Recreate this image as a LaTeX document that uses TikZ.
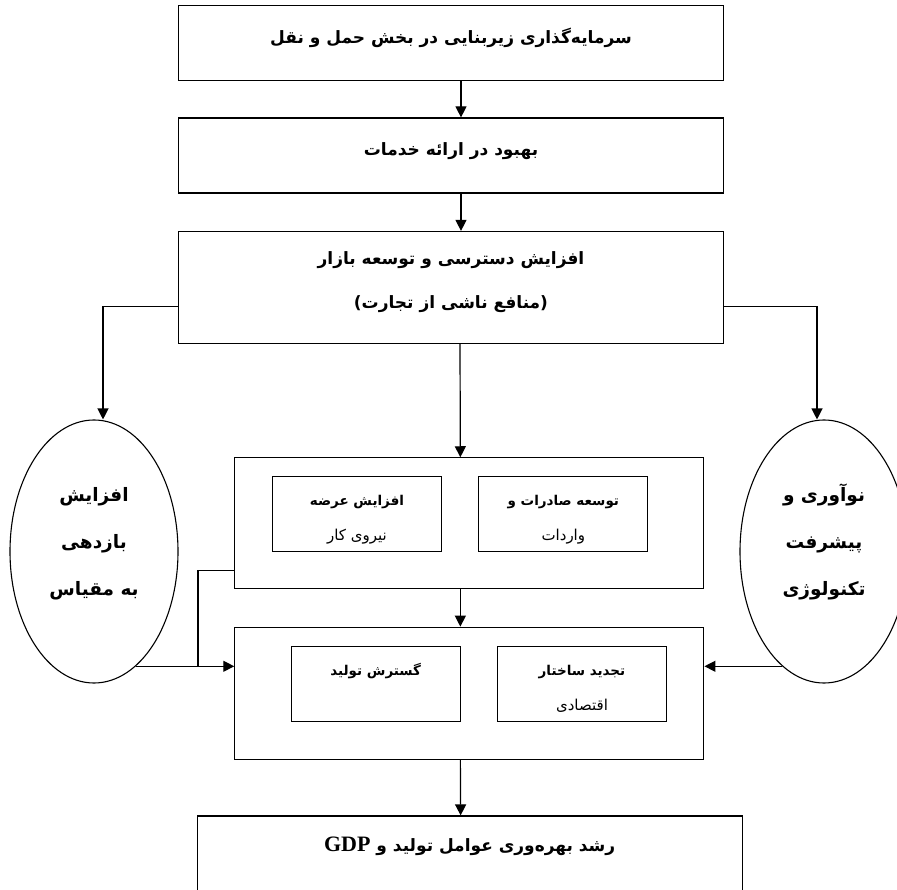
\documentclass[tikz,border=0pt]{standalone}
\usepackage{fontspec}
\usepackage{tikz}
\usetikzlibrary{arrows.meta, shapes.geometric}
\TeXXeTstate=1
\newfontfamily\persianfont[Script=Arabic]{DejaVu Sans}
\newfontfamily\latinfont{Liberation Serif}
\newcommand{\fatext}[1]{\beginR #1\endR}
\newcommand{\faplain}[1]{\beginR{\mdseries\fontsize{15}{35}\selectfont #1}\endR}

\begin{document}
\begin{tikzpicture}[x=1pt,y=-1pt]
    \tikzset{block/.style = {shape=rectangle,draw,line width=1.2pt,minimum width=545pt,minimum height=75pt,inner sep=0pt}}
    \tikzset{subblock/.style = {shape=rectangle,draw,line width=1.1pt,minimum width=169pt,minimum height=75pt,inner sep=0pt}}
    \tikzset{oval/.style = {shape=ellipse,draw,line width=1.1pt,minimum width=168pt,minimum height=263pt,inner sep=0pt}}
    \tikzset{title/.style = {font=\persianfont\bfseries\fontsize{17}{44}\selectfont,align=center,inner sep=0pt}}
    \tikzset{subtitle/.style = {font=\persianfont\bfseries\fontsize{13.5}{35}\selectfont,align=center,inner sep=0pt}}
    \tikzset{ovaltitle/.style = {font=\persianfont\bfseries\fontsize{18.5}{47}\selectfont,align=center,inner sep=0pt}}
    \tikzset{edge/.style = {-{Triangle[width=11pt,length=11pt]},line width=1.2pt}}
    \clip (0,0) rectangle (897,890);
    % vertices
    \node[block] (invest) at (451,43) {};
    \node[title] (investtxt) at (451,38) {\fatext{سرمایه‌گذاری زیربنایی در بخش حمل و نقل}};
    \node[block] (service) at (451,155.5) {};
    \node[title] (servicetxt) at (451,151) {\fatext{بهبود در ارائه خدمات}};
    \node[block,minimum height=112pt] (market) at (451,287.5) {};
    \node[title] (markettxt) at (451,282) {\fatext{افزایش دسترسی و توسعه بازار}\\\fatext{(منافع ناشی از تجارت)}};
    \node[block,minimum width=469pt,minimum height=131pt] (trade) at (469.35,523.35) {};
    \node[subblock] (labour) at (357,514.35) {};
    \node[subtitle] (labourtxt) at (357,520) {\fatext{افزایش عرضه}\\\faplain{نیروی کار}};
    \node[subblock] (export) at (563.35,514.35) {};
    \node[subtitle] (exporttxt) at (563.35,520) {\fatext{توسعه صادرات و}\\\faplain{واردات}};
    \node[block,minimum width=469pt,minimum height=132pt] (prod) at (469.35,693.25) {};
    \node[subblock] (expand) at (375.65,683.85) {};
    \node[subtitle] (expandtxt) at (375.65,671) {\fatext{گسترش تولید}};
    \node[subblock] (restruct) at (582,683.85) {};
    \node[subtitle] (restructtxt) at (582,688.5) {\fatext{تجدید ساختار}\\\faplain{اقتصادی}};
    \node[block,minimum height=80pt] (growth) at (469.65,856) {};
    \node[title] (growthtxt) at (469.65,846) {\fatext{رشد بهره‌وری عوامل تولید و \beginL{\latinfont\bfseries\fontsize{22}{24}\selectfont GDP}\endL}};
    \node[oval] (scale) at (94,551.5) {};
    \node[ovaltitle] (scaletxt) at (94,544) {\fatext{افزایش}\\\fatext{بازدهی}\\\fatext{به مقیاس}};
    \node[oval] (tech) at (824,551.5) {};
    \node[ovaltitle] (techtxt) at (824,542) {\fatext{نوآوری و}\\\fatext{پیشرفت}\\\fatext{تکنولوژی}};
    \coordinate (merge) at (198,666);
    %edges
    \draw[edge] ([xshift=10pt]invest.south) -- ([xshift=10pt]service.north);
    \draw[edge] ([xshift=10pt]service.south) -- ([xshift=10pt]market.north);
    \draw[edge] ([xshift=9pt]market.south) -- ([xshift=-9pt]trade.north);
    \draw[edge] ([yshift=-19pt]market.west) -| ([xshift=9pt]scale.north);
    \draw[edge] ([yshift=-19pt]market.east) -| ([xshift=-7pt]tech.north);
    \draw[edge] ([xshift=-9pt]trade.south) -- ([xshift=-9pt]prod.north);
    \draw[line width=1.2pt] ([yshift=-47pt]trade.west) -| (merge);
    \draw[edge] (scale.-70) -- (scale.-70 -| prod.west);
    \draw[edge] (tech.250) -- (tech.250 -| prod.east);
    \draw[edge] ([xshift=-9pt]prod.south) -- ([xshift=-9pt]growth.north);
\end{tikzpicture}
\end{document}
